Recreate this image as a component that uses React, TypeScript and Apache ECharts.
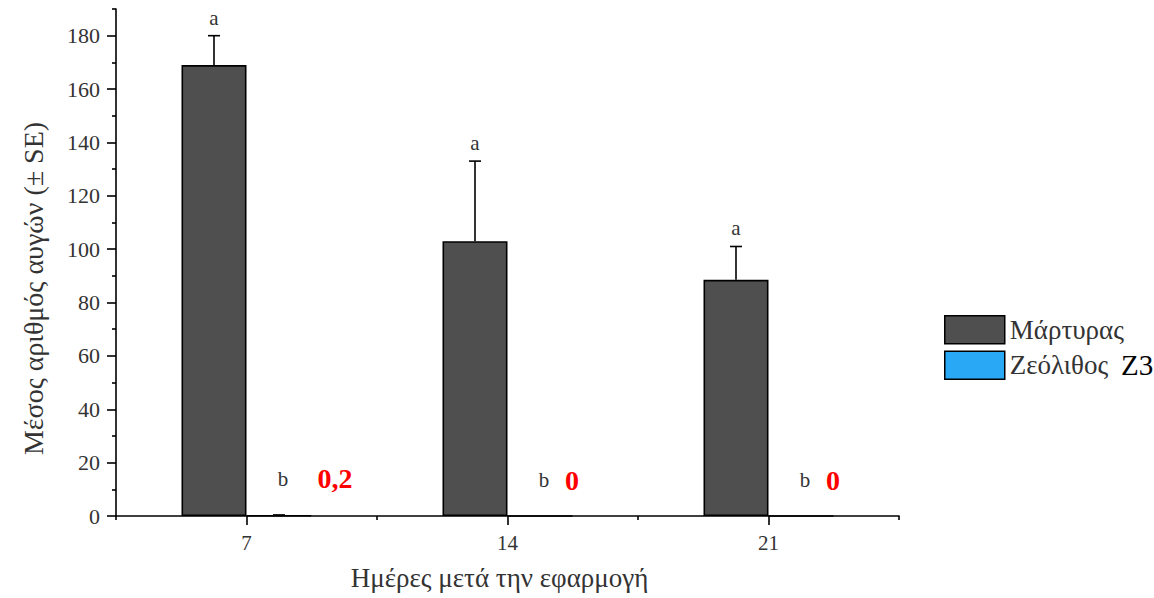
import React, { useEffect, useRef } from "react";
import * as echarts from "echarts";

// ---- data ----
const categories = ["7", "14", "21"];
const controlMeans = [169, 103, 88.5];
const controlSE = [11, 30, 12.5];
const controlLetters = ["a", "a", "a"];
const zeoliteMeans = [0.2, 0, 0];
const zeoliteSE = [0.2, 0, 0];
const zeoliteLetters = ["b", "b", "b"];
const zeoliteValueLabels = ["0,2", "0", "0"];
const yMajorTicks = [0, 20, 40, 60, 80, 100, 120, 140, 160, 180];
const yMinorTicks = [10, 30, 50, 70, 90, 110, 130, 150, 170, 190];
const seriesNames = ["Μάρτυρας", "Ζεόλιθος"];

// ---- style ----
const FONT = "'Liberation Serif', 'Times New Roman', serif";
const BAR_W = 65;
const DARK = "#4f4f4f";
const BLUE = "#29a9f5";
const TXT = "#333";
const redLabelOffsets = [56, 32, 32];

export default function App() {
  const ref = useRef<HTMLDivElement>(null);
  useEffect(() => {
    if (!ref.current) return;
    const chart = echarts.init(ref.current, undefined, { renderer: "svg" });

    const errItem = (
      means: number[],
      ses: number[],
      letters: string[],
      offset: number,
      kind: "control" | "zeo"
    ) => (params: any, api: any) => {
      const i = params.dataIndex;
      const mean = means[i];
      const se = ses[i];
      const base = api.coord([i, mean]);
      const top = api.coord([i, mean + se]);
      const x = base[0] + offset;
      const children: any[] = [];
      if (se > 0) {
        children.push({
          type: "line",
          shape: { x1: x, y1: base[1], x2: x, y2: top[1] },
          style: { stroke: "#000", lineWidth: 1.6 },
        });
        children.push({
          type: "line",
          shape: { x1: x - 6, y1: top[1], x2: x + 6, y2: top[1] },
          style: { stroke: "#000", lineWidth: 1.6 },
        });
      }
      if (kind === "control") {
        children.push({
          type: "text",
          style: {
            x: x,
            y: top[1] - 18,
            text: letters[i],
            fill: TXT,
            font: `21px ${FONT}`,
            textAlign: "center",
            textVerticalAlign: "middle",
          },
        });
      } else {
        children.push({
          type: "text",
          style: {
            x: x + 4,
            y: top[1] - 36,
            text: letters[i],
            fill: TXT,
            font: `21px ${FONT}`,
            textAlign: "center",
            textVerticalAlign: "middle",
          },
        });
        children.push({
          type: "text",
          style: {
            x: x + redLabelOffsets[i],
            y: top[1] - 36,
            text: zeoliteValueLabels[i],
            fill: "#ff0000",
            font: `bold 28px ${FONT}`,
            textAlign: "center",
            textVerticalAlign: "middle",
          },
        });
      }
      return { type: "group", children };
    };

    const option: any = {
      animation: false,
      textStyle: { fontFamily: FONT },
      grid: { left: 116, right: 255, top: 9, bottom: 82, containLabel: false },
      legend: {
        orient: "vertical",
        left: 944,
        top: 315,
        padding: 0,
        icon: "rect",
        itemWidth: 60,
        itemHeight: 28,
        itemGap: 6,
        data: seriesNames,
        itemStyle: { borderColor: "#000", borderWidth: 1.5 },
        textStyle: {
          fontFamily: FONT,
          fontSize: 27,
          color: TXT,
          rich: { z: { fontFamily: FONT, fontSize: 29, color: "#000", padding: [0, 0, 0, 6] } },
        },
        formatter: (name: string) => (name === seriesNames[1] ? `${name} {z|Z3}` : name),
      },
      xAxis: [
        {
          type: "category",
          data: categories,
          axisLine: { show: true, lineStyle: { color: "#000", width: 1.6 } },
          axisTick: { show: true, alignWithLabel: true, length: 9, lineStyle: { color: "#000", width: 1.6 } },
          axisLabel: { color: TXT, fontSize: 21, fontFamily: FONT, margin: 16 },
          name: "Ημέρες μετά την εφαρμογή",
          nameLocation: "middle",
          nameGap: 48,
          nameTextStyle: { color: TXT, fontSize: 27, fontFamily: FONT, padding: [0, 16, 0, 0] },
        },
        {
          type: "category",
          data: categories,
          position: "bottom",
          axisLine: { show: false },
          axisTick: { show: true, alignWithLabel: false, length: 4, lineStyle: { color: "#000", width: 1.6 } },
          axisLabel: { show: false },
        },
      ],
      yAxis: [
        {
          type: "value",
          min: 0,
          max: 190,
          splitLine: { show: false },
          axisLine: { show: true, lineStyle: { color: "#000", width: 1.6 } },
          axisTick: { show: true, customValues: yMajorTicks, length: 9, lineStyle: { color: "#000", width: 1.6 } },
          axisLabel: { customValues: yMajorTicks, color: TXT, fontSize: 22, fontFamily: FONT, margin: 16 },
          name: "Μέσος αριθμός αυγών (± SE)",
          nameLocation: "middle",
          nameRotate: 90,
          nameGap: 69,
          nameTextStyle: { color: TXT, fontSize: 28, fontFamily: FONT, padding: [0, 52, 0, 0] },
        },
        {
          type: "value",
          min: 0,
          max: 190,
          position: "left",
          splitLine: { show: false },
          axisLine: { show: false },
          axisTick: { show: true, customValues: yMinorTicks, length: 4, lineStyle: { color: "#000", width: 1.6 } },
          axisLabel: { show: false },
        },
      ],
      series: [
        {
          name: seriesNames[0],
          type: "bar",
          data: controlMeans,
          barWidth: BAR_W,
          barGap: "0%",
          itemStyle: { color: DARK, borderColor: "#000", borderWidth: 1.6 },
        },
        {
          name: seriesNames[1],
          type: "bar",
          data: zeoliteMeans,
          barWidth: BAR_W,
          barGap: "0%",
          itemStyle: { color: BLUE, borderColor: "#000", borderWidth: 1.6 },
        },
        {
          type: "custom",
          renderItem: errItem(controlMeans, controlSE, controlLetters, -BAR_W / 2, "control"),
          data: controlMeans.map((m, i) => [i, m + controlSE[i]]),
          z: 5,
          silent: true,
        },
        {
          type: "custom",
          renderItem: errItem(zeoliteMeans, zeoliteSE, zeoliteLetters, BAR_W / 2, "zeo"),
          data: zeoliteMeans.map((m, i) => [i, m + zeoliteSE[i]]),
          z: 5,
          silent: true,
        },
      ],
    };
    chart.setOption(option);
    return () => chart.dispose();
  }, []);
  return (
    <div
      ref={ref}
      style={{ position: "fixed", left: 0, top: 0, width: 1154, height: 598, background: "#fff" }}
    />
  );
}
